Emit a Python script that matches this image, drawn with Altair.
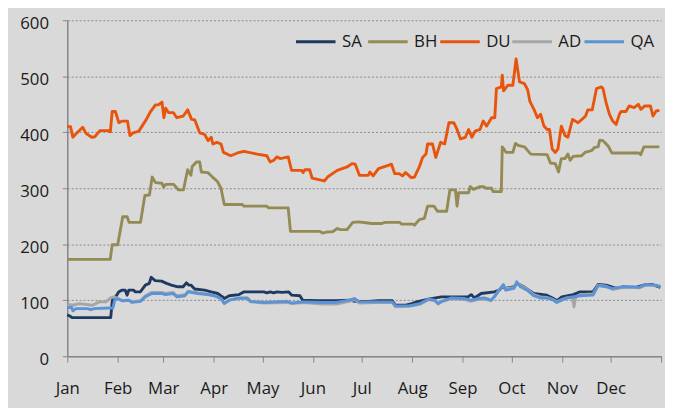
import altair as alt
import pandas as pd

SERIES = ["SA", "BH", "DU", "AD", "QA"]
COLORS = ["#1f3a60", "#948a54", "#e8540c", "#a6a6a6", "#5b93d6"]
MONTH_STARTS = [0, 31, 59, 90, 120, 151, 181, 212, 243, 273, 304, 334, 365]
MONTHS = ["Jan", "Feb", "Mar", "Apr", "May", "Jun", "Jul", "Aug", "Sep", "Oct", "Nov", "Dec", ""]
Y_TICKS = [0, 100, 200, 300, 400, 500, 600]

# (day of year, value)
SA = [(0, 74), (2, 71), (3, 69), (16.6, 69), (26.7, 69), (27.7, 100), (29.7, 106), (31.7, 115),
      (33.7, 118), (35.6, 118), (36.8, 109), (37.8, 118), (40.8, 118), (41.7, 115), (44.9, 115),
      (48, 127), (50.4, 130), (51.6, 141), (54, 135), (58, 134), (61, 130), (64, 127), (68, 124),
      (71.2, 124), (73.2, 131), (74.6, 127), (76, 127), (78.3, 120), (84.4, 118), (88.4, 115),
      (92.5, 112), (95.5, 106), (96.5, 103), (99.6, 108), (105.6, 110), (108.7, 115), (120.8, 115),
      (122.8, 113), (124.8, 115), (126.8, 113), (128.9, 115), (131.9, 114), (136, 115), (138, 109),
      (143, 108), (144.7, 100), (153.2, 99), (165.3, 99), (173.4, 100), (177, 98), (185.5, 98),
      (191.5, 99), (199.8, 99), (201.8, 91), (208, 91), (211.8, 94), (214.8, 97), (222, 102),
      (230, 106), (238.2, 106), (246.3, 106), (248.3, 110), (250.3, 104), (254.4, 112), (262.5, 115),
      (265.5, 118), (267.5, 124), (269.5, 121), (274.6, 124), (276.6, 130), (280.6, 124), (283.7, 118),
      (286.7, 112), (294.8, 109), (298.9, 103), (300.9, 99), (304, 106), (311, 110), (315.2, 115),
      (323.2, 115), (326.3, 128), (331.3, 127), (337.4, 121), (341.6, 124), (345.6, 123), (349.5, 123),
      (355.5, 128), (359.6, 128), (364.6, 123)]

BH = [(0, 173), (26.4, 173), (27.6, 199), (31, 199), (34.1, 249), (36.8, 249), (38, 239), (45, 239),
      (47.7, 287), (50.5, 288), (52.2, 320), (54.2, 310), (58.2, 309), (59.2, 302), (60.5, 307),
      (65.3, 307), (68.4, 297), (71.4, 297), (74, 333), (76, 323), (76.8, 339), (79.4, 347), (81.4, 347),
      (82.4, 329), (86.4, 328), (90, 318), (92.3, 312), (94.5, 300), (96.5, 271), (107.6, 271),
      (108.6, 268), (122.7, 268), (123.7, 265), (135.8, 265), (137.2, 223), (155, 223), (157, 220),
      (160, 222), (163, 222), (166, 228), (168, 226), (172, 226), (175.5, 239), (179, 240), (187.2, 237),
      (193, 237), (195.3, 239), (204.4, 239), (205.4, 236), (212.4, 236), (213.4, 234), (216.4, 244),
      (219.5, 246), (221.5, 268), (225.5, 268), (227.5, 259), (233.2, 259), (235.2, 297), (238.6, 297),
      (239.6, 268), (240.6, 292), (246.7, 292), (247.7, 303), (249.7, 298), (253.8, 303), (256, 303),
      (257.3, 300), (260.8, 300), (261.8, 294), (266.8, 294), (267.4, 374), (269.8, 364), (273.9, 364),
      (275.5, 380), (277.6, 376), (281, 374), (284.9, 361), (295, 360), (297, 345), (300, 344),
      (302, 329), (303.7, 353), (306, 353), (307.7, 361), (309.1, 350), (311, 357), (316.2, 358),
      (318.2, 364), (322.2, 367), (324.2, 373), (326.3, 374), (327.3, 386), (329.3, 385), (331.3, 379),
      (332.8, 374), (334.7, 363), (351.4, 363), (352.5, 360), (354.5, 374), (364, 374)]

DU = [(0, 410), (2, 410), (3.4, 391), (6, 399), (9.5, 409), (11.5, 398), (15, 391), (17, 392),
      (20, 403), (25, 403), (26.5, 401), (27.6, 437), (29.6, 437), (31.7, 417), (33.7, 420), (37, 420),
      (38.5, 394), (40.5, 399), (44, 402), (48.6, 423), (51.2, 437), (54.2, 449), (56, 449), (58.2, 454),
      (59.4, 426), (60.5, 443), (62.3, 435), (65.3, 435), (67.3, 426), (71.3, 429), (74, 440),
      (76.4, 423), (78.4, 422), (81.4, 399), (84.5, 396), (86.5, 385), (88.5, 391), (89.5, 379),
      (92, 382), (94.5, 379), (96, 364), (100.5, 358), (104.6, 363), (108.6, 366), (116.7, 361),
      (122.7, 358), (124.7, 347), (127, 350), (128.8, 356), (130.8, 353), (135.8, 356), (137.9, 332),
      (144, 332), (145, 328), (146, 333), (149, 333), (150.5, 318), (158, 313), (160, 320), (163, 326),
      (166, 332), (169, 335), (172, 338), (175, 344), (177, 343), (179.6, 323), (185, 323), (186, 329),
      (188, 322), (191.3, 335), (197.3, 341), (199.3, 343), (201.3, 326), (204, 326), (206, 322),
      (208, 328), (211.4, 319), (213.4, 320), (216.4, 338), (218.4, 355), (220.5, 361), (221.5, 379),
      (224.5, 379), (226.5, 355), (229.5, 382), (232, 379), (234.6, 417), (237.6, 417), (239.6, 405),
      (241.7, 388), (244.7, 391), (246.7, 405), (248.7, 391), (250.7, 402), (253.7, 405), (255.7, 420),
      (257.8, 411), (260.8, 426), (262.8, 426), (263.8, 478), (266.8, 481), (267.4, 502), (268.2, 474),
      (270.9, 484), (273.9, 484), (275.9, 531), (278, 490), (281, 487), (283, 476), (284.4, 455),
      (287, 440), (289, 426), (291, 432), (293, 411), (295, 405), (296.4, 405), (298.1, 370), (300, 364),
      (301.6, 370), (303.7, 411), (306, 394), (307.7, 391), (310.6, 423), (314, 417), (316, 422),
      (318.6, 429), (320, 440), (322.7, 440), (325.3, 478), (328.3, 481), (329.3, 478), (331.3, 452),
      (333.3, 432), (335.3, 420), (337.4, 414), (339.4, 432), (340.4, 437), (343.4, 437), (345.4, 447),
      (348.4, 444), (351, 450), (352.6, 441), (355, 447), (358.5, 447), (360, 429), (362, 438), (364, 439)]

AD = [(0, 93), (3.4, 91), (7.4, 94), (15.5, 91), (19.6, 97), (23.7, 97), (26.7, 104), (28.7, 106),
      (31.7, 102), (33.7, 99), (37.8, 100), (39.7, 97), (45, 99), (48, 108), (52, 114), (58, 114),
      (60.3, 112), (65, 114), (67.4, 108), (72.4, 110), (74.3, 116), (80.3, 113), (86.4, 111),
      (90.5, 108), (94.5, 102), (96.5, 95), (99.6, 100), (105.6, 103), (110.7, 103), (112.7, 97),
      (120.8, 95), (135, 96), (138, 94), (145, 96), (157.3, 93), (165.3, 93), (173.4, 98), (176.5, 101),
      (179.5, 95), (189.6, 96), (199.7, 96), (201.8, 88), (210, 89), (212, 90), (217, 93), (222, 101),
      (226, 99), (228, 93), (230, 97), (236.2, 103), (244.3, 101), (248.3, 98), (252.4, 101),
      (256.4, 102), (260.5, 99), (262.5, 106), (265.5, 119), (268.1, 126), (269.5, 120), (272.6, 122),
      (274.6, 123), (276.3, 131), (278.6, 126), (282.7, 120), (286.7, 110), (290.7, 106), (294.8, 105),
      (298.9, 101), (300.9, 97), (303.9, 101), (307, 104), (310.5, 105), (311.5, 88), (312.5, 105),
      (315.2, 110), (323.2, 111), (326.3, 127), (331.3, 125), (335.3, 119), (339.4, 122), (341.4, 122),
      (347.5, 123), (351.5, 122), (355.6, 127), (361.7, 126), (364.6, 125)]

QA = [(0, 87), (2.7, 87), (3.4, 81), (5.4, 85), (12.4, 85), (14.4, 83), (16.6, 85), (25.7, 86),
      (28, 86), (29.3, 102), (31.7, 102), (33.7, 99), (37.8, 100), (39.7, 96), (45, 98), (48, 106),
      (52, 112), (58, 112), (60.3, 110), (65, 112), (67.4, 106), (72.4, 108), (74.3, 115), (80.3, 112),
      (86.4, 110), (90.5, 108), (94.5, 103), (96.5, 94), (99.6, 100), (105.6, 104), (110.7, 104),
      (112.7, 98), (120.8, 96), (135, 98), (138, 95), (145, 97), (157.3, 96), (165.3, 96), (173.4, 100),
      (176.5, 103), (179.5, 97), (189.6, 97), (199.7, 97), (201.8, 90), (210, 90), (212, 91), (217, 94),
      (222, 102), (226, 100), (228, 94), (230, 98), (236.2, 104), (244.3, 103), (248.3, 100),
      (252.4, 103), (256.4, 104), (260.5, 100), (262.5, 106), (265.5, 118), (268.1, 128), (269.5, 118),
      (272.6, 120), (274.6, 121), (276.3, 133), (278.6, 124), (282.7, 118), (286.7, 108), (290.7, 104),
      (294.8, 104), (298.9, 100), (300.9, 96), (303.9, 100), (307, 104), (315.2, 108), (323.2, 109),
      (326.3, 126), (331.3, 124), (335.3, 121), (339.4, 123), (341.4, 124), (347.5, 124), (351.5, 123),
      (355.6, 128), (361.7, 127), (364.6, 124)]

rows = []
for name, pts in zip(SERIES, [SA, BH, DU, AD, QA]):
    for d, v in pts:
        rows.append({"series": name, "day": d, "value": v})
df = pd.DataFrame(rows)

FONT = "Open Sans"
AXIS_GREY = "#868686"
label_expr = f"{MONTHS}[indexof({MONTH_STARTS}, datum.value)]"

chart = alt.Chart(df).mark_line(strokeWidth=2.9, strokeJoin="round").encode(
    x=alt.X("day:Q",
            scale=alt.Scale(domain=[0, 365], nice=False, zero=False),
            axis=alt.Axis(values=MONTH_STARTS, labelExpr=label_expr, title=None, grid=False,
                          tickSize=6, tickColor=AXIS_GREY, domainColor=AXIS_GREY, domainWidth=1.5,
                          labelPadding=19, labelFlush=False, labelOverlap=False,
                          labelFont=FONT, labelFontSize=17, labelColor="#1a1a1a")),
    y=alt.Y("value:Q",
            scale=alt.Scale(domain=[0, 600], nice=False),
            axis=alt.Axis(values=Y_TICKS, title=None, grid=True, gridDash=[2, 2],
                          gridColor="#8a8a8a", gridWidth=1,
                          tickSize=5, tickColor=AXIS_GREY, domainColor=AXIS_GREY, domainWidth=1.5,
                          labelPadding=14, labelOffset=3,
                          labelFont=FONT, labelFontSize=17, labelColor="#1a1a1a")),
    color=alt.Color("series:N",
                    scale=alt.Scale(domain=SERIES, range=COLORS),
                    legend=alt.Legend(orient="none", legendX=230, legendY=0, direction="horizontal",
                                      title=None, symbolType="stroke", symbolSize=1600,
                                      symbolStrokeWidth=3, labelFont=FONT, labelFontSize=17,
                                      labelColor="#1a1a1a", labelOffset=5, columnPadding=-6,
                                      gridAlign="all", padding=0)),
).properties(
    width=601, height=340,
    autosize=alt.AutoSizeParams(type="none"),
    padding={"left": 60, "top": 10, "right": 4, "bottom": 50},
    background="#d9d9d9",
).configure_view(stroke=None)

chart.save("out.html", embed_options={"renderer": "svg", "actions": False})
